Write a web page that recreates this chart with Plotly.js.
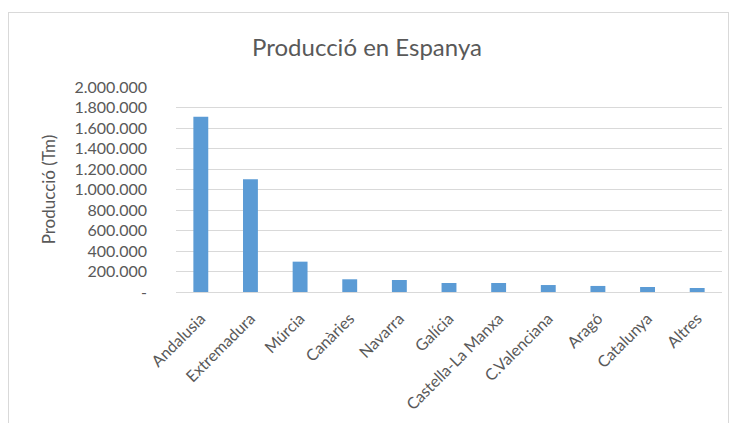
<!DOCTYPE html>
<html>
<head>
<meta charset="utf-8">
<script src="https://cdn.plot.ly/plotly-3.0.1.min.js"></script>
<style>
html,body{margin:0;padding:0;background:#fff;}
#wrap{position:relative;width:734px;height:423px;}
#chart{width:734px;height:423px;}
#frame{position:absolute;left:8px;top:12px;width:719px;height:420px;border:1px solid #d9d9d9;pointer-events:none;}
</style>
</head>
<body>
<div id="wrap">
<div id="chart"></div>
<div id="frame"></div>
</div>
<script>
const categories = ["Andalusia","Extremadura","Múrcia","Canàries","Navarra","Galícia","Castella-La Manxa","C.Valenciana","Aragó","Catalunya","Altres"];
const production = [1710000,1100000,296000,124000,117000,88000,88000,68000,59000,49000,39000];
const tickValues = [0,200000,400000,600000,800000,1000000,1200000,1400000,1600000,1800000,2000000];
const tickLabels = ["-","200.000","400.000","600.000","800.000","1.000.000","1.200.000","1.400.000","1.600.000","1.800.000","2.000.000"];

const font = "Lato, 'Open Sans', sans-serif";
const grey = "#595959";

Plotly.newPlot("chart", [{
  type: "bar",
  x: categories,
  y: production,
  marker: {color: "#5B9BD5"},
  hoverinfo: "x+y"
}], {
  width: 734, height: 423,
  margin: {l: 176, r: 12, t: 87, b: 131},
  paper_bgcolor: "#fff", plot_bgcolor: "#fff",
  bargap: 0.7,
  showlegend: false,
  title: {text: "Producció en Espanya", x: 0.5, xref: "container", y: 0.888, yref: "container", yanchor: "middle",
          font: {family: font, size: 24, color: grey}},
  xaxis: {
    tickangle: -45, tickfont: {family: font, size: 16, color: grey},
    showgrid: false, showline: true, linecolor: "#d9d9d9", linewidth: 1,
    ticks: "", ticklabelstandoff: 10, automargin: false
  },
  yaxis: {
    range: [0, 2000000], tickvals: tickValues, ticktext: tickLabels,
    tickfont: {family: font, size: 16, color: grey},
    gridcolor: "#d9d9d9", gridwidth: 1, zeroline: false, showline: false,
    ticks: "", ticklabelstandoff: 28, automargin: false,
    title: {text: "Producció (Tm)", standoff: 14, font: {family: font, size: 17, color: grey}}
  }
}, {displayModeBar: false, staticPlot: true});
</script>
</body>
</html>
